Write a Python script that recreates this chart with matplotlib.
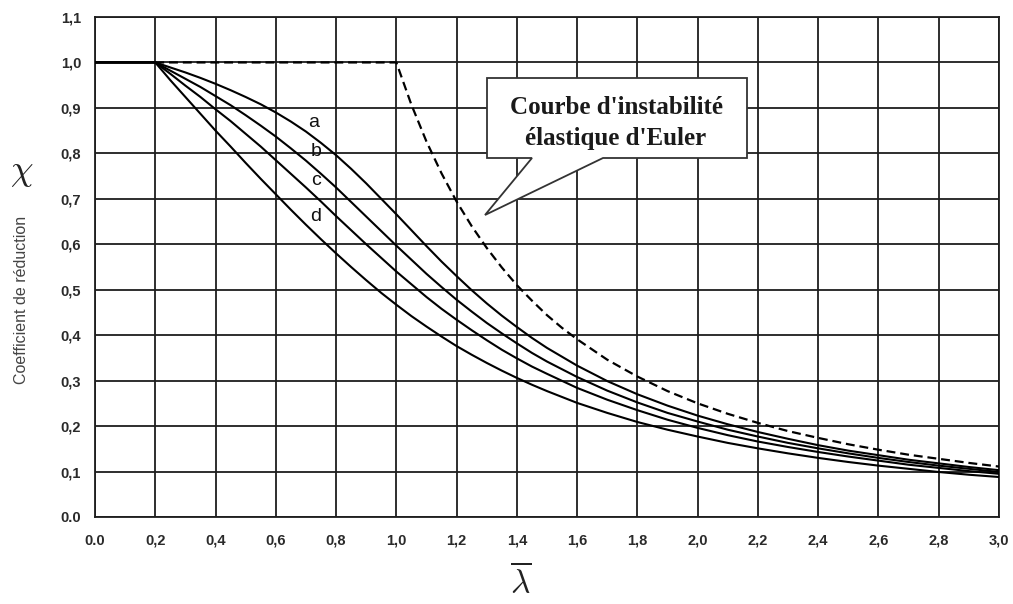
import matplotlib
matplotlib.use("Agg")
import matplotlib.pyplot as plt
from matplotlib.patches import Polygon

# ---------------- data ----------------
lam = [0.0,
       0.2, 0.25, 0.3, 0.35, 0.4, 0.45, 0.5, 0.55, 0.6, 0.65, 0.7, 0.75, 0.8, 0.85,
       0.9, 0.95, 1.0, 1.05, 1.1, 1.15, 1.2, 1.25, 1.3, 1.35, 1.4, 1.45, 1.5,
       1.6, 1.7, 1.8, 1.9, 2.0, 2.1, 2.2, 2.3, 2.4, 2.5, 2.6, 2.7, 2.8, 2.9, 3.0]

chi_a = [1.0,
         1.0, 0.989, 0.978, 0.966, 0.953, 0.939, 0.924, 0.908, 0.890, 0.870, 0.848, 0.823, 0.796, 0.766,
         0.734, 0.700, 0.666, 0.631, 0.596, 0.562, 0.530, 0.499, 0.470, 0.443, 0.418, 0.394, 0.372,
         0.333, 0.299, 0.270, 0.245, 0.223, 0.204, 0.187, 0.172, 0.158, 0.146, 0.136, 0.126, 0.118, 0.110, 0.103]
chi_b = [1.0,
         1.0, 0.982, 0.964, 0.946, 0.926, 0.906, 0.884, 0.861, 0.837, 0.811, 0.784, 0.755, 0.725, 0.693,
         0.661, 0.629, 0.597, 0.566, 0.535, 0.506, 0.478, 0.452, 0.427, 0.404, 0.382, 0.361, 0.342,
         0.308, 0.278, 0.252, 0.229, 0.210, 0.192, 0.177, 0.163, 0.151, 0.140, 0.130, 0.121, 0.113, 0.106, 0.099]
chi_c = [1.0,
         1.0, 0.975, 0.949, 0.924, 0.897, 0.871, 0.843, 0.815, 0.785, 0.755, 0.725, 0.694, 0.662, 0.631,
         0.600, 0.570, 0.540, 0.512, 0.484, 0.458, 0.434, 0.411, 0.389, 0.368, 0.349, 0.331, 0.315,
         0.284, 0.258, 0.235, 0.214, 0.196, 0.180, 0.166, 0.154, 0.143, 0.133, 0.124, 0.115, 0.108, 0.101, 0.095]
chi_d = [1.0,
         1.0, 0.961, 0.924, 0.887, 0.850, 0.815, 0.779, 0.744, 0.710, 0.676, 0.643, 0.611, 0.580, 0.550,
         0.521, 0.493, 0.467, 0.442, 0.419, 0.397, 0.376, 0.357, 0.339, 0.322, 0.306, 0.291, 0.277,
         0.251, 0.229, 0.209, 0.192, 0.177, 0.163, 0.151, 0.140, 0.130, 0.121, 0.113, 0.106, 0.099, 0.093, 0.088]

lam_euler = [0.2, 1.0, 1.05, 1.1, 1.15, 1.2, 1.25, 1.3, 1.35, 1.4, 1.45, 1.5, 1.55,
             1.6, 1.7, 1.8, 1.9, 2.0, 2.1, 2.2, 2.3, 2.4, 2.5, 2.6, 2.7, 2.8, 2.9, 3.0]
chi_euler = [1.0, 1.0, 0.907, 0.826, 0.756, 0.694, 0.640, 0.592, 0.549, 0.510, 0.476, 0.444, 0.416,
             0.391, 0.346, 0.309, 0.277, 0.250, 0.227, 0.207, 0.189, 0.174, 0.160, 0.148, 0.137,
             0.128, 0.119, 0.111]

curve_names = ["a", "b", "c", "d"]
label_lam = [0.724, 0.733, 0.733, 0.733]
label_chi = [0.867, 0.803, 0.741, 0.662]

x_ticks = [0.0, 0.2, 0.4, 0.6, 0.8, 1.0, 1.2, 1.4, 1.6, 1.8, 2.0, 2.2, 2.4, 2.6, 2.8, 3.0]
x_tick_labels = ["0.0", "0,2", "0,4", "0,6", "0,8", "1,0", "1,2", "1,4", "1,6", "1,8",
                 "2,0", "2,2", "2,4", "2,6", "2,8", "3,0"]
y_ticks = [0.0, 0.1, 0.2, 0.3, 0.4, 0.5, 0.6, 0.7, 0.8, 0.9, 1.0, 1.1]
y_tick_labels = ["0.0", "0,1", "0,2", "0,3", "0,4", "0,5", "0,6", "0,7", "0,8", "0,9", "1,0", "1,1"]

callout_text = "Courbe d'instabilité\nélastique d'Euler"
ylabel_text = "Coefficient de réduction"

# ---------------- figure ----------------
W, H = 1013, 604
fig = plt.figure(figsize=(W / 100, H / 100), dpi=100)
fig.patch.set_facecolor("white")
ax = fig.add_axes([95 / W, 1 - 517 / H, (999 - 95) / W, (517 - 17) / H])

grid_col = "#1e1e1e"
ax.set_xlim(0, 3.0)
ax.set_ylim(0, 1.1)
ax.set_xticks(x_ticks)
ax.set_xticklabels(x_tick_labels)
ax.set_yticks(y_ticks)
ax.set_yticklabels(y_tick_labels)
ax.grid(True, color=grid_col, linewidth=1.3, zorder=0)
ax.set_axisbelow(True)
for s in ax.spines.values():
    s.set_color(grid_col)
    s.set_linewidth(1.3)
ax.tick_params(length=0, pad=10, colors="#222222")
for t in ax.get_xticklabels() + ax.get_yticklabels():
    t.set_fontfamily("Liberation Sans")
    t.set_fontsize(10.5)
    t.set_fontweight("bold")
    t.set_color("#2a2a2a")
ax.tick_params(axis="x", pad=12)

# curves
for ys in (chi_a, chi_b, chi_c, chi_d):
    ax.plot(lam, ys, color="black", linewidth=1.5, zorder=4,
            solid_capstyle="round", solid_joinstyle="round")
ax.plot(lam_euler, chi_euler, color="black", linewidth=1.6,
        linestyle=(0, (4, 2.2)), zorder=4)

# curve letters
for name, lx, ly in zip(curve_names, label_lam, label_chi):
    ax.text(lx, ly, name, fontsize=14, family="Liberation Sans",
            ha="center", va="center", color="#111111", zorder=6)

# callout box (coordinates derived from the reference's pixel layout)
def px(xp, yp):
    return ((xp - 95) / (904 / 3.0), (517 - yp) / (500 / 1.1))

verts = [px(487, 78), px(747, 78), px(747, 158), px(603, 158),
         px(485, 215), px(532, 158), px(487, 158)]
ax.add_patch(Polygon(verts, closed=True, facecolor="white", edgecolor="#333333",
                     linewidth=1.3, zorder=5))
tx, ty = px(616, 123)
ax.text(tx, ty, callout_text, family="Liberation Serif", fontweight="bold",
        fontsize=18, ha="center", va="center", linespacing=1.4,
        color="#1a1a1a", zorder=6)

# y-axis label: chi symbol + text
fig.text(22 / W, 1 - 172 / H, r"$\chi$", fontsize=26, math_fontfamily="cm",
         ha="center", va="center", color="#222222")
fig.text(22 / W, 1 - 300 / H, ylabel_text, rotation=90, fontsize=11.5,
         family="Liberation Sans", ha="center", va="center", color="#444444")

# x-axis label: lambda bar
fig.text(521 / W, 1 - 582 / H, r"$\overline{\lambda}$", fontsize=24,
         math_fontfamily="cm", ha="center", va="center", color="#222222")

fig.savefig("out.png", dpi=100, facecolor="white")
